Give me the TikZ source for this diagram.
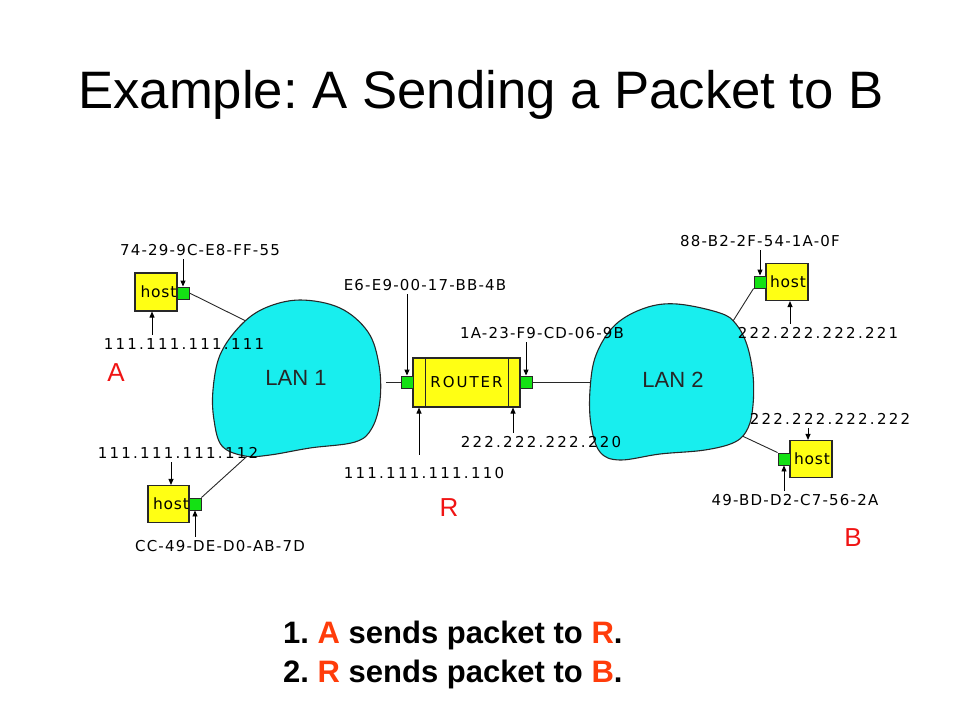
\documentclass[tikz,border=0pt]{standalone}
\usepackage{fontspec}
\setmainfont{Liberation Sans}
\newfontfamily\addrfont[LetterSpace=8]{DejaVu Sans}
\newfontfamily\ipfont[LetterSpace=15]{DejaVu Sans}
\newfontfamily\boxfont[LetterSpace=5]{DejaVu Sans}
\newfontfamily\routerfont[LetterSpace=13]{DejaVu Sans}
\usetikzlibrary{arrows.meta,calc,backgrounds}
\definecolor{lancyan}{RGB}{24,238,238}
\definecolor{boxyellow}{RGB}{255,255,20}
\definecolor{portgreen}{RGB}{20,225,20}
\definecolor{outline}{RGB}{40,40,40}
\definecolor{markred}{RGB}{240,20,20}
\definecolor{stepred}{RGB}{255,60,10}
\tikzset{
  hostbox/.style={draw=outline,line width=1.1pt,fill=boxyellow,minimum width=42pt,
    minimum height=37pt,inner sep=0pt,font=\boxfont\fontsize{15.5}{17}\selectfont},
  port/.style={draw=outline,line width=0.9pt,fill=portgreen,minimum size=12pt,inner sep=0pt},
  maclabel/.style={font=\addrfont\fontsize{15}{17}\selectfont},
  iplabel/.style={font=\ipfont\fontsize{15}{17}\selectfont},
  tip/.style={-{Triangle[length=6pt,width=5pt]},line width=0.9pt},
  wire/.style={line width=0.9pt,draw=outline},
  lan/.style={draw=outline,line width=1.1pt,fill=lancyan},
  endpoint/.style={text=markred,font=\fontsize{26}{30}\selectfont},
  stepline/.style={anchor=base west,inner sep=0pt,font=\bfseries\fontsize{31}{36}\selectfont},
}
\frenchspacing
\begin{document}
\begin{tikzpicture}[x=1pt,y=-1pt]
    \useasboundingbox (0,0) rectangle (960,720);
    \node[anchor=base] (title) at (481,108) {\fontsize{52.7}{60}\selectfont Example: A Sending a Packet to B};
    % the two LAN clouds
    \draw[lan] plot[smooth cycle,tension=0.6] coordinates {(300,300) (340,308) (368,332) (379,365) (380,400)
      (372,428) (355,442) (310,448) (270,455) (245,456) (222,446) (214,420) (213,390) (220,355) (240,326) (265,308)};
    \draw[lan] plot[smooth cycle,tension=0.6] coordinates {(677,304) (720,313) (736,324) (747,345) (753,375)
      (753,405) (748,428) (735,442) (705,450) (660,454) (620,460) (600,452) (591,425) (590,390) (596,355)
      (615,325) (645,308)};
    \node[font=\fontsize{22}{26}\selectfont,text=black!85] (lan1) at (296,378) {LAN 1};
    \node[font=\fontsize{22}{26}\selectfont,text=black!85] (lan2) at (673,380) {LAN 2};
    % hosts and their ports
    \node[hostbox,minimum height=38pt] (hostA) at (156,292) {\hspace*{5pt}host};
    \node[port] (portA) at (183,293) {};
    \node[hostbox,minimum width=41pt] (hostL) at (168.5,504) {\hspace*{5pt}host};
    \node[port] (portL) at (195,504) {};
    \node[hostbox] (hostU) at (787,282) {\hspace*{2pt}host};
    \node[port] (portU) at (760,282) {};
    \node[hostbox] (hostB) at (811,459) {\hspace*{2pt}host};
    \node[port] (portB) at (784,459) {};
    % router
    \node[hostbox,minimum width=107pt,minimum height=49pt,font=\routerfont\fontsize{15}{17}\selectfont] (router) at (466.5,382.5) {ROUTER};
    \draw[draw=outline,line width=1.1pt] ([xshift=13pt]router.north west) -- ([xshift=13pt]router.south west);
    \draw[draw=outline,line width=1.1pt] ([xshift=-12pt]router.north east) -- ([xshift=-12pt]router.south east);
    \node[port] (portRl) at (407,382) {};
    \node[port] (portRr) at (526,382) {};
    % addresses
    \node[maclabel] (macA) at (200,250) {74-29-9C-E8-FF-55};
    \node[iplabel] (ipA) at (184,344) {111.111.111.111};
    \node[iplabel] (ipL) at (178,453) {111.111.111.112};
    \node[maclabel] (macL) at (220,546) {CC-49-DE-D0-AB-7D};
    \node[maclabel] (macRl) at (425,285) {E6-E9-00-17-BB-4B};
    \node[maclabel] (macRr) at (542,333) {1A-23-F9-CD-06-9B};
    \node[iplabel] (ipRl) at (424,473) {111.111.111.110};
    \node[iplabel] (ipRr) at (541,442) {222.222.222.220};
    \node[maclabel] (macU) at (760,241) {88-B2-2F-54-1A-0F};
    \node[iplabel] (ipU) at (818,333) {222.222.222.221};
    \node[iplabel] (ipB) at (830,419) {222.222.222.222};
    \node[maclabel] (macB) at (795,500) {49-BD-D2-C7-56-2A};
    \draw[tip] (macA.south -| portA.north) -- (portA.north);
    \draw[tip] ([xshift=-4pt]hostA.south |- ipA.north) -- ([xshift=-4pt]hostA.south);
    \draw[tip] ([xshift=2.5pt]hostL.north |- ipL.south) -- ([xshift=2.5pt]hostL.north);
    \draw[tip] (macL.north -| portL.south) -- (portL.south);
    \draw[tip] (macRl.south -| portRl.north) -- (portRl.north);
    \draw[tip] (macRr.south -| portRr.north) -- (portRr.north);
    \draw[tip,shorten <=9pt] ([xshift=-47.5pt]router.south |- ipRl.north) -- ([xshift=-47.5pt]router.south);
    \draw[tip] ([xshift=46.5pt]router.south |- ipRr.north) -- ([xshift=46.5pt]router.south);
    \draw[tip] (macU.south -| portU.north) -- (portU.north);
    \draw[tip] ([xshift=3pt]hostU.south |- ipU.north) -- ([xshift=3pt]hostU.south);
    \draw[tip] ([xshift=-3pt]hostB.north |- ipB.south) -- ([xshift=-3pt]hostB.north);
    \draw[tip] (macB.north -| portB.south) -- (portB.south);
    % wires into the LANs, kept under the clouds
    \coordinate (lanA) at (258,327);
    \coordinate (lanL) at (255,449);
    \coordinate (lanRl) at (386,382);
    \coordinate (lanRr) at (596,382);
    \coordinate (lanU) at (728,329);
    \coordinate (lanB) at (738,434);
    \begin{scope}[on background layer]
      \draw[wire] (portA.east) -- (lanA);
      \draw[wire] (portL.north east) -- (lanL);
      \draw[wire] (portRl.west) -- (lanRl);
      \draw[wire] (portRr.east) -- (lanRr);
      \draw[wire] (portU.south west) -- (lanU);
      \draw[wire] (portB.north west) -- (lanB);
    \end{scope}
    % A, R, B
    \node[endpoint] (endA) at (116,373) {A};
    \node[endpoint] (endR) at (449,508) {R};
    \node[endpoint] (endB) at (853,538) {B};
    % steps
    \node[stepline] (step1) at (283,643) {1. \textcolor{stepred}{A} sends packet to \textcolor{stepred}{R}.};
    \node[stepline] (step2) at (283,682) {2. \textcolor{stepred}{R} sends packet to \textcolor{stepred}{B}.};
\end{tikzpicture}
\end{document}
